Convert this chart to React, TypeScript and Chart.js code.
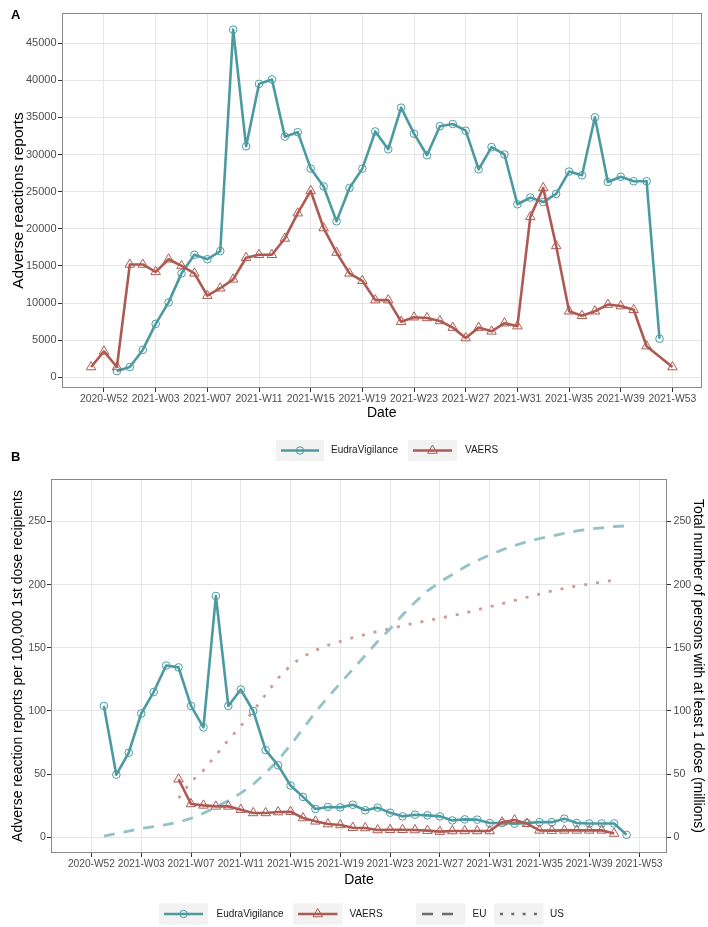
import React, { useEffect, useRef } from "react";
import { Chart, registerables } from "chart.js";

Chart.register(...registerables);

const FONT = "'Liberation Sans', Arial, Helvetica, sans-serif";
const TEAL = "#4B9AA2";
const RED = "#AD5A52";
const EU_COL = "#93C2C7";
const US_COL = "#CE9C97";
const GRID = "#E6E6E6";
const TICK_TEXT = "#4D4D4D";
const TICK_MARK = "#333333";

// x positions: weeks counted from 2020-W52 (2020 had a W53)
const WEEKS = [-1, 0, 1, 2, 3, 4, 5, 6, 7, 8, 9, 10, 11, 12, 13, 14, 15, 16, 17, 18, 19, 20, 21, 22, 23, 24, 25, 26, 27, 28, 29, 30, 31, 32, 33, 34, 35, 36, 37, 38, 39, 40, 41, 42, 43, 44];
const TICK_WEEKS = [0, 4, 8, 12, 16, 20, 24, 28, 32, 36, 40, 44];
const TICK_LABELS = ["2020-W52", "2021-W03", "2021-W07", "2021-W11", "2021-W15", "2021-W19", "2021-W23", "2021-W27", "2021-W31", "2021-W35", "2021-W39", "2021-W53"];
const X_MIN = -3.25;
const X_MAX = 46.25;

// Panel A: weekly adverse reaction reports
const A_EV = [null, null, 850, 1400, 3700, 7200, 10100, 14000, 16500, 15900, 17000, 46800, 31100, 39500, 40100, 32400, 33000, 28100, 25700, 21000, 25500, 28100, 33100, 30700, 36300, 32800, 29900, 33800, 34100, 33200, 28000, 31000, 30000, 23300, 24200, 23600, 24700, 27700, 27200, 35000, 26300, 27000, 26400, 26400, 5200, null];
const A_VAERS = [1400, 3500, 1400, 15200, 15200, 14200, 15900, 15000, 14000, 11000, 12000, 13200, 16100, 16500, 16500, 18700, 22100, 25100, 20100, 16800, 14000, 13000, 10400, 10400, 7500, 8100, 8000, 7600, 6700, 5300, 6700, 6200, 7300, 6900, 21600, 25500, 17700, 8900, 8300, 8900, 9800, 9600, 9100, 4200, null, 1400];
const A_Y_TICKS = [0, 5000, 10000, 15000, 20000, 25000, 30000, 35000, 40000, 45000];

// Panel B: reports per 100,000 first-dose recipients, and people vaccinated (millions)
const B_EV = [null, null, 104, 49.6, 67, 98, 115, 136, 134.5, 104, 87, 191, 104, 117, 100, 69, 57, 41, 32, 22.4, 24, 23.7, 25.8, 21.4, 23.5, 19.5, 16.6, 17.9, 17.4, 16.6, 13.4, 14.2, 14, 11.3, 11.3, 10.8, 11.3, 12, 12, 14.8, 11.3, 11, 11, 11, 2, null];
const B_VAERS = [null, null, null, null, null, null, null, null, 46, 26.4, 25.3, 24.5, 24.5, 21.9, 19.3, 19.3, 20, 20.3, 15.3, 12.7, 10.5, 9.8, 7.6, 7.4, 5.8, 6, 6, 5.8, 5.3, 4.5, 5, 5, 5, 5, 12, 13.7, 10.8, 5.5, 5.3, 5.5, 5.5, 5.5, 5.5, 3, null, null];
const B_EU = [null, null, 1, 3, 5, 7, 8.5, 10, 12, 15, 19, 24, 29, 35, 42, 51, 61, 73, 86, 99, 111, 122, 133, 144, 155, 165, 176, 186, 195, 202, 208, 214, 219, 223.5, 227.5, 231, 234, 236.5, 238.5, 240.5, 242.5, 244, 245, 246, 246.5, null];
const B_US = [null, null, null, null, null, null, null, null, 31, 44, 53, 65, 77, 88, 100, 113, 126, 136, 143, 148, 152, 155, 158, 160.5, 163, 165, 167.5, 169.5, 171.5, 173.5, 175.5, 177.5, 180, 182.5, 185, 187.5, 190, 192.5, 195, 197, 199, 200.5, 202, 203.5, null, null];
const B_Y_TICKS = [0, 50, 100, 150, 200, 250];

const pts = (vals: (number | null)[]) => WEEKS.map((w, i) => ({ x: w, y: vals[i] }));

function drawTriangle(ctx: CanvasRenderingContext2D, x: number, y: number, r: number) {
  ctx.beginPath();
  for (let k = 0; k < 3; k++) {
    const a = -Math.PI / 2 + (k * 2 * Math.PI) / 3;
    const px = x + Math.cos(a) * r;
    const py = y + Math.sin(a) * r;
    if (k === 0) ctx.moveTo(px, py);
    else ctx.lineTo(px, py);
  }
  ctx.closePath();
  ctx.stroke();
}

type LegendItem = { keyX: number; keyW: number; textX: number; label: string; kind: string };

function drawLegend(ctx: CanvasRenderingContext2D, items: LegendItem[], cy: number) {
  ctx.save();
  for (const it of items) {
    ctx.fillStyle = "#F2F2F2";
    ctx.fillRect(it.keyX, cy - 10.5, it.keyW, 21);
    const x0 = it.keyX + 5;
    const x1 = it.keyX + it.keyW - 5;
    const cx = it.keyX + it.keyW / 2;
    ctx.lineCap = "butt";
    if (it.kind === "ev" || it.kind === "vaers") {
      const col = it.kind === "ev" ? TEAL : RED;
      ctx.setLineDash([]);
      ctx.strokeStyle = col;
      ctx.lineWidth = 2.6;
      ctx.beginPath();
      ctx.moveTo(x0, cy);
      ctx.lineTo(x1, cy);
      ctx.stroke();
      ctx.lineWidth = 1;
      if (it.kind === "ev") {
        ctx.beginPath();
        ctx.arc(cx, cy, 3.7, 0, Math.PI * 2);
        ctx.stroke();
      } else {
        drawTriangle(ctx, cx, cy, 5.5);
      }
    } else {
      ctx.strokeStyle = "#6E6E6E";
      ctx.lineWidth = 2.6;
      ctx.setLineDash(it.kind === "eu" ? [11, 9] : [3, 8.3]);
      ctx.beginPath();
      ctx.moveTo(it.keyX + 6, cy);
      ctx.lineTo(it.keyX + it.keyW - 4, cy);
      ctx.stroke();
      ctx.setLineDash([]);
    }
    ctx.fillStyle = "#1A1A1A";
    ctx.font = `10px ${FONT}`;
    ctx.textBaseline = "middle";
    ctx.textAlign = "left";
    ctx.fillText(it.label, it.textX, cy);
  }
  ctx.restore();
}

function makeDecor(opts: { legend: LegendItem[]; legendY: number; letters: { t: string; x: number; y: number }[] }) {
  return {
    id: "decor",
    afterDraw(chart: any) {
      const { ctx, chartArea: a } = chart;
      ctx.save();
      ctx.strokeStyle = "#8A8A8A";
      ctx.lineWidth = 1;
      ctx.setLineDash([]);
      ctx.strokeRect(Math.round(a.left) + 0.5, Math.round(a.top) + 0.5, Math.round(a.right) - Math.round(a.left) - 1, Math.round(a.bottom) - Math.round(a.top) - 1);
      ctx.fillStyle = "#000";
      ctx.font = `bold 13px ${FONT}`;
      ctx.textBaseline = "middle";
      ctx.textAlign = "left";
      for (const l of opts.letters) ctx.fillText(l.t, l.x, l.y);
      ctx.restore();
      drawLegend(ctx, opts.legend, opts.legendY);
    },
  };
}

function xAxis(height: number, tickPad: number, tickSize: number) {
  return {
    type: "linear",
    min: X_MIN,
    max: X_MAX,
    bounds: "data",
    afterBuildTicks: (s: any) => {
      s.ticks = TICK_WEEKS.map((v) => ({ value: v }));
    },
    afterFit: (s: any) => {
      s.height = height;
    },
    ticks: {
      autoSkip: false,
      maxRotation: 0,
      minRotation: 0,
      padding: tickPad,
      color: TICK_TEXT,
      font: { family: FONT, size: tickSize },
      callback: (v: number) => {
        const i = TICK_WEEKS.indexOf(v);
        return i >= 0 ? TICK_LABELS[i] : "";
      },
    },
    grid: { color: GRID, lineWidth: 1, drawTicks: true, tickLength: 4, tickColor: TICK_MARK, tickWidth: 1 },
    border: { display: false },
    title: { display: true, text: "Date", color: "#000", font: { family: FONT, size: 14 }, padding: { top: 0, bottom: 0 } },
  };
}

function yAxis(min: number, max: number, tickVals: number[], width: number, title: string, titleSize: number, titlePad: number, position: string, onArea: boolean, tickPad: number, tickSize: number) {
  return {
    type: "linear",
    position,
    min,
    max,
    bounds: "data",
    afterBuildTicks: (s: any) => {
      s.ticks = tickVals.map((v) => ({ value: v }));
    },
    afterFit: (s: any) => {
      s.width = width;
    },
    ticks: {
      padding: tickPad,
      color: TICK_TEXT,
      font: { family: FONT, size: tickSize },
      callback: (v: number) => String(v),
    },
    grid: { color: GRID, lineWidth: 1, drawOnChartArea: onArea, drawTicks: true, tickLength: 4, tickColor: TICK_MARK, tickWidth: 1 },
    border: { display: false },
    title: { display: true, text: title, color: "#000", font: { family: FONT, size: titleSize }, padding: { top: titlePad, bottom: 0 } },
  };
}

function lineDs(label: string, vals: (number | null)[], color: string, marker: string, order: number, yAxisID = "y") {
  return {
    label,
    data: pts(vals),
    yAxisID,
    borderColor: color,
    borderWidth: 2.6,
    borderJoinStyle: "round",
    pointStyle: marker,
    pointRadius: marker === "triangle" ? 5.5 : 3.8,
    pointBorderWidth: 1,
    pointBorderColor: color,
    pointBackgroundColor: "rgba(0,0,0,0)",
    tension: 0,
    spanGaps: true,
    order,
  };
}

function curveDs(label: string, vals: (number | null)[], color: string, dash: number[], order: number) {
  return {
    label,
    data: pts(vals),
    yAxisID: "y",
    borderColor: color,
    borderWidth: 2.8,
    borderDash: dash,
    borderCapStyle: "butt",
    pointRadius: 0,
    tension: 0,
    spanGaps: true,
    order,
  };
}

export default function App() {
  const refA = useRef<HTMLCanvasElement | null>(null);
  const refB = useRef<HTMLCanvasElement | null>(null);

  useEffect(() => {
    Chart.defaults.font.family = FONT;
    const common = {
      responsive: false,
      maintainAspectRatio: false,
      animation: false,
      devicePixelRatio: 1,
      events: [],
      plugins: { legend: { display: false }, tooltip: { enabled: false } },
    };

    const chartA = new Chart(refA.current as HTMLCanvasElement, {
      type: "line",
      data: {
        datasets: [lineDs("EudraVigilance", A_EV, TEAL, "circle", 1), lineDs("VAERS", A_VAERS, RED, "triangle", 0)],
      } as any,
      options: {
        ...common,
        layout: { padding: { left: 0, top: 13, right: 2, bottom: 48.6 } },
        scales: {
          x: xAxis(33.4, 0.5, 10.4),
          y: yAxis(-1426, 49040, A_Y_TICKS, 62, "Adverse reactions reports", 15.5, 9.2, "left", true, 1.5, 11),
        },
      } as any,
      plugins: [
        makeDecor({
          legend: [
            { keyX: 276, keyW: 48, textX: 331, label: "EudraVigilance", kind: "ev" },
            { keyX: 408, keyW: 49, textX: 465, label: "VAERS", kind: "vaers" },
          ],
          legendY: 450.5,
          letters: [
            { t: "A", x: 11, y: 15 },
            { t: "B", x: 11, y: 457 },
          ],
        }),
      ] as any,
    });

    const chartB = new Chart(refB.current as HTMLCanvasElement, {
      type: "line",
      data: {
        datasets: [
          lineDs("EudraVigilance", B_EV, TEAL, "circle", 1),
          lineDs("VAERS", B_VAERS, RED, "triangle", 0),
          curveDs("EU", B_EU, EU_COL, [11, 9], 2),
          curveDs("US", B_US, US_COL, [3, 9], 3),
        ],
      } as any,
      options: {
        ...common,
        layout: { padding: { left: 0, top: 9, right: 0, bottom: 38.6 } },
        scales: {
          x: xAxis(35.4, 1.5, 10.2),
          y: yAxis(-12.4, 283.6, B_Y_TICKS, 51, "Adverse reaction reports per 100,000 1st dose recipients", 14, 10.1, "left", true, 1, 10.6),
          y2: yAxis(-12.4, 283.6, B_Y_TICKS, 41, "Total number of persons with at least 1 dose (millions)", 14, 2.1, "right", false, 2.5, 10.6),
        },
      } as any,
      plugins: [
        makeDecor({
          legend: [
            { keyX: 159, keyW: 49, textX: 216.5, label: "EudraVigilance", kind: "ev" },
            { keyX: 293, keyW: 49.5, textX: 349.5, label: "VAERS", kind: "vaers" },
            { keyX: 416, keyW: 49.5, textX: 472.5, label: "EU", kind: "eu" },
            { keyX: 494, keyW: 49.5, textX: 550, label: "US", kind: "us" },
          ],
          legendY: 444,
          letters: [],
        }),
      ] as any,
    });

    return () => {
      chartA.destroy();
      chartB.destroy();
    };
  }, []);

  return (
    <div style={{ position: "absolute", left: 0, top: 0, width: 708, height: 927, background: "#fff" }}>
      <canvas ref={refA} width={708} height={470} style={{ position: "absolute", left: 0, top: 0, width: 708, height: 470 }} />
      <canvas ref={refB} width={708} height={457} style={{ position: "absolute", left: 0, top: 470, width: 708, height: 457 }} />
    </div>
  );
}
